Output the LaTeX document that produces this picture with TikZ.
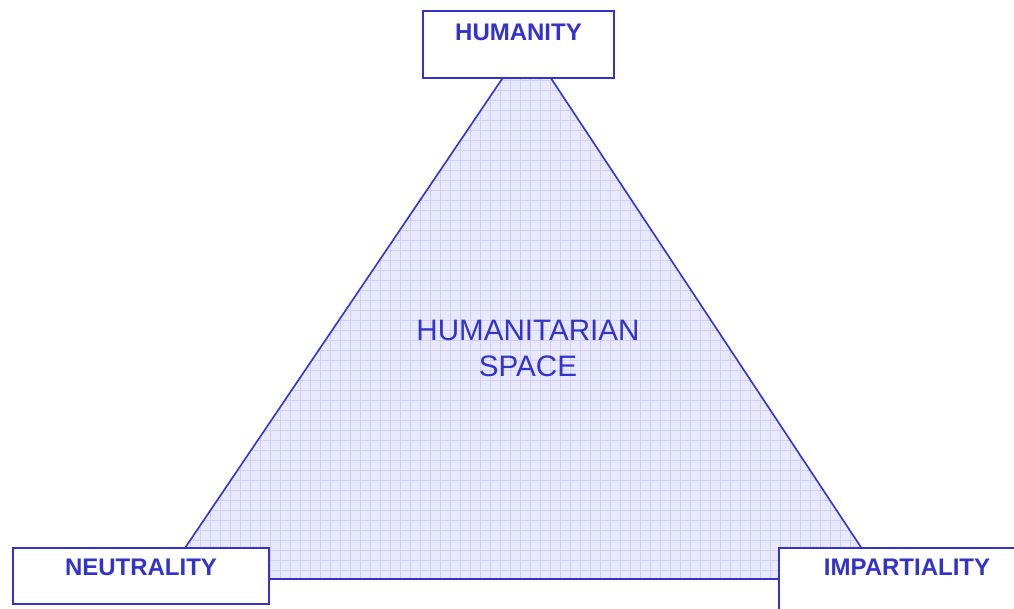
\documentclass[tikz,border=0pt]{standalone}
\usepackage{fontspec}
\setmainfont{Liberation Sans}
\definecolor{ink}{HTML}{3333CC}
\definecolor{spacefill}{HTML}{E8E8FF}
\definecolor{gridline}{HTML}{CFCFFA}
\begin{document}
\begin{tikzpicture}[x=1pt,y=-1pt,
  principle/.style={draw=ink, line width=1.6pt, fill=white, inner sep=0pt,
    text=ink, font=\fontsize{24}{27}\selectfont\bfseries},
  centre/.style={text=ink, align=center, font=\fontsize{29.6}{36}\selectfont},
  gridrule/.style={gridline, line width=0.7pt}]
\useasboundingbox (0,0) rectangle (1014,609);
\clip (0,0) rectangle (1014,609);
% the triangle of principles
\coordinate (apex) at (527,42);
\coordinate (left) at (164,579);
\coordinate (right) at (882,579);
\begin{scope}
  \clip (apex) -- (left) -- (right) -- cycle;
  \fill[spacefill] (150,30) rectangle (900,590);
  \foreach \gx in {150,160,...,900} \draw[gridrule] (\gx,30) -- (\gx,590);
  \foreach \gy in {30,40,...,590} \draw[gridrule] (150,\gy) -- (900,\gy);
\end{scope}
\draw[ink, line width=1.6pt, line join=miter] (apex) -- (left) -- (right) -- cycle;
\node[centre] (space) at (528,348) {HUMANITARIAN\\SPACE};
% the three principles
\node[principle, minimum width=191pt, text height=29pt, text depth=38pt] (humanity) at (518.5,10.5) [anchor=north] {HUMANITY};
\node[principle, minimum width=256pt, text height=28pt, text depth=28pt] (neutrality) at (141,547) [anchor=north] {NEUTRALITY};
\node[principle, minimum width=256pt, text height=28pt, text depth=40pt] (impartiality) at (907,547) [anchor=north] {IMPARTIALITY};
\end{tikzpicture}
\end{document}
